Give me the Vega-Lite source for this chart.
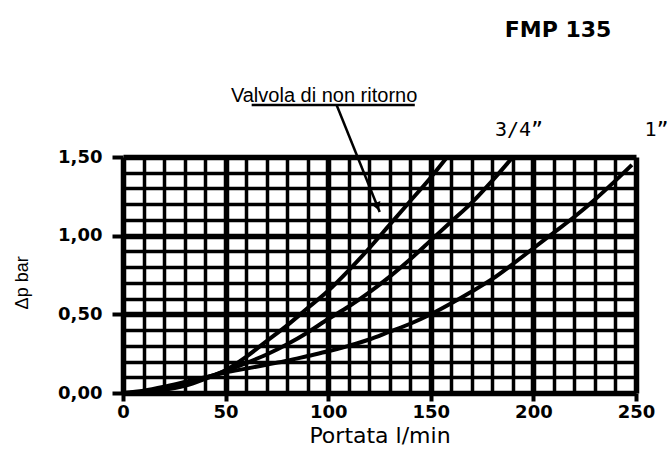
{
  "$schema": "https://vega.github.io/schema/vega-lite/v6.json",
  "width": 513,
  "height": 236,
  "autosize": {"type": "none"},
  "padding": {"left": 123, "top": 157, "right": 34, "bottom": 66},
  "background": "white",
  "config": {
    "view": {"stroke": null},
    "axis": {"labelColor": "black", "titleColor": "black", "domain": false}
  },
  "datasets": {
    "curves": [
      {"serie": "Valvola", "portata": 0, "dp": 0},
      {"serie": "Valvola", "portata": 10, "dp": 0.005},
      {"serie": "Valvola", "portata": 20, "dp": 0.02},
      {"serie": "Valvola", "portata": 30, "dp": 0.045},
      {"serie": "Valvola", "portata": 40, "dp": 0.09},
      {"serie": "Valvola", "portata": 50, "dp": 0.145},
      {"serie": "Valvola", "portata": 60, "dp": 0.23},
      {"serie": "Valvola", "portata": 70, "dp": 0.33},
      {"serie": "Valvola", "portata": 80, "dp": 0.43},
      {"serie": "Valvola", "portata": 90, "dp": 0.54},
      {"serie": "Valvola", "portata": 100, "dp": 0.65},
      {"serie": "Valvola", "portata": 110, "dp": 0.78},
      {"serie": "Valvola", "portata": 120, "dp": 0.92},
      {"serie": "Valvola", "portata": 130, "dp": 1.07},
      {"serie": "Valvola", "portata": 140, "dp": 1.22},
      {"serie": "Valvola", "portata": 150, "dp": 1.37},
      {"serie": "Valvola", "portata": 158, "dp": 1.5},
      {"serie": "3/4", "portata": 0, "dp": 0},
      {"serie": "3/4", "portata": 10, "dp": 0.01},
      {"serie": "3/4", "portata": 20, "dp": 0.03},
      {"serie": "3/4", "portata": 30, "dp": 0.06},
      {"serie": "3/4", "portata": 40, "dp": 0.095},
      {"serie": "3/4", "portata": 50, "dp": 0.14},
      {"serie": "3/4", "portata": 60, "dp": 0.19},
      {"serie": "3/4", "portata": 70, "dp": 0.245},
      {"serie": "3/4", "portata": 80, "dp": 0.31},
      {"serie": "3/4", "portata": 90, "dp": 0.385},
      {"serie": "3/4", "portata": 100, "dp": 0.47},
      {"serie": "3/4", "portata": 110, "dp": 0.55},
      {"serie": "3/4", "portata": 120, "dp": 0.64},
      {"serie": "3/4", "portata": 130, "dp": 0.74},
      {"serie": "3/4", "portata": 140, "dp": 0.85},
      {"serie": "3/4", "portata": 150, "dp": 0.97},
      {"serie": "3/4", "portata": 160, "dp": 1.09},
      {"serie": "3/4", "portata": 170, "dp": 1.21},
      {"serie": "3/4", "portata": 180, "dp": 1.35},
      {"serie": "3/4", "portata": 190, "dp": 1.5},
      {"serie": "1", "portata": 0, "dp": 0},
      {"serie": "1", "portata": 10, "dp": 0.015},
      {"serie": "1", "portata": 20, "dp": 0.04},
      {"serie": "1", "portata": 30, "dp": 0.07},
      {"serie": "1", "portata": 40, "dp": 0.1},
      {"serie": "1", "portata": 50, "dp": 0.13},
      {"serie": "1", "portata": 60, "dp": 0.155},
      {"serie": "1", "portata": 70, "dp": 0.18},
      {"serie": "1", "portata": 80, "dp": 0.205},
      {"serie": "1", "portata": 90, "dp": 0.235},
      {"serie": "1", "portata": 100, "dp": 0.265},
      {"serie": "1", "portata": 110, "dp": 0.3},
      {"serie": "1", "portata": 120, "dp": 0.34},
      {"serie": "1", "portata": 130, "dp": 0.39},
      {"serie": "1", "portata": 140, "dp": 0.44},
      {"serie": "1", "portata": 150, "dp": 0.5},
      {"serie": "1", "portata": 160, "dp": 0.57},
      {"serie": "1", "portata": 170, "dp": 0.645},
      {"serie": "1", "portata": 180, "dp": 0.725},
      {"serie": "1", "portata": 190, "dp": 0.82},
      {"serie": "1", "portata": 200, "dp": 0.92},
      {"serie": "1", "portata": 210, "dp": 1.02},
      {"serie": "1", "portata": 220, "dp": 1.12},
      {"serie": "1", "portata": 230, "dp": 1.23},
      {"serie": "1", "portata": 240, "dp": 1.35},
      {"serie": "1", "portata": 248, "dp": 1.45}
    ],
    "valvola": [
      {"text": "Valvola di non ritorno", "portata": 98, "dp": 1.89}
    ],
    "sizes": [
      {"text": "3/4\u201d", "portata": 193, "dp": 1.67},
      {"text": "1\u201d", "portata": 260, "dp": 1.67}
    ],
    "model": [
      {"text": "FMP 135", "portata": 212, "dp": 2.31}
    ],
    "ytitle": [
      {"text": "\u0394p bar", "portata": -48.5, "dp": 0.7}
    ],
    "leader": [
      {"seg": "underline", "portata": 62.7, "dp": 1.83},
      {"seg": "underline", "portata": 142.2, "dp": 1.83},
      {"seg": "arrow", "portata": 104.1, "dp": 1.83},
      {"seg": "arrow", "portata": 125.1, "dp": 1.15}
    ],
    "head": [
      {"portata": 124, "dp": 1.185}
    ]
  },
  "encoding": {
    "x": {
      "field": "portata",
      "type": "quantitative",
      "scale": {"domain": [0, 250], "nice": false},
      "axis": {
        "title": "Portata l/min",
        "titleFont": "DejaVu Sans",
        "titleFontSize": 22,
        "titleFontWeight": "normal",
        "titlePadding": 4,
        "values": [0,10,20,30,40,50,60,70,80,90,100,110,120,130,140,150,160,170,180,190,200,210,220,230,240,250],
        "labelExpr": "datum.value % 50 === 0 ? datum.label : ''",
        "labelFont": "DejaVu Sans",
        "labelFontSize": 18,
        "labelFontWeight": "bold",
        "labelPadding": 2,
        "labelFlush": false,
        "labelOverlap": false,
        "grid": true,
        "gridColor": "black",
        "gridOpacity": 1,
        "gridWidth": {"condition": {"test": "datum.value % 50 === 0", "value": 5.5}, "value": 3.5},
        "ticks": true,
        "tickColor": "black",
        "tickWidth": 4,
        "tickSize": {"condition": {"test": "datum.value % 50 === 0", "value": 8}, "value": 0}
      }
    },
    "y": {
      "field": "dp",
      "type": "quantitative",
      "scale": {"domain": [0, 1.5], "nice": false},
      "axis": {
        "title": null,
        "values": [0,0.1,0.2,0.3,0.4,0.5,0.6,0.7,0.8,0.9,1,1.1,1.2,1.3,1.4,1.5],
        "labelExpr": "round(datum.value*10) % 5 === 0 ? replace(format(datum.value, '.2f'), '.', ',') : ''",
        "labelFont": "DejaVu Sans",
        "labelFontSize": 18,
        "labelFontWeight": "bold",
        "labelPadding": 10,
        "labelOverlap": false,
        "labelFlush": false,
        "grid": true,
        "gridColor": "black",
        "gridOpacity": 1,
        "gridWidth": {"condition": {"test": "round(datum.value*10) % 5 === 0", "value": 5.5}, "value": 3.5},
        "ticks": true,
        "tickColor": "black",
        "tickWidth": 4,
        "tickSize": {"condition": {"test": "round(datum.value*10) % 5 === 0", "value": 11}, "value": 0}
      }
    }
  },
  "layer": [
    {
      "data": {"name": "curves"},
      "mark": {"type": "line", "color": "black", "strokeWidth": 4, "interpolate": "monotone", "clip": false},
      "encoding": {"detail": {"field": "serie"}}
    },
    {
      "data": {"name": "leader"},
      "mark": {"type": "line", "color": "black", "strokeWidth": 2.5, "clip": false},
      "encoding": {"detail": {"field": "seg"}}
    },
    {
      "data": {"name": "head"},
      "mark": {"type": "point", "shape": "triangle-down", "filled": true, "color": "black", "opacity": 1, "size": 90, "angle": 338.5, "clip": false},
      "encoding": {}
    },
    {
      "data": {"name": "valvola"},
      "mark": {"type": "text", "color": "black", "align": "center", "baseline": "middle", "font": "Liberation Sans", "fontSize": 20, "clip": false},
      "encoding": {"text": {"field": "text"}}
    },
    {
      "data": {"name": "sizes"},
      "mark": {"type": "text", "color": "black", "align": "center", "baseline": "middle", "font": "DejaVu Sans Mono", "fontSize": 20, "clip": false},
      "encoding": {"text": {"field": "text"}}
    },
    {
      "data": {"name": "model"},
      "mark": {"type": "text", "color": "black", "align": "center", "baseline": "middle", "font": "DejaVu Sans", "fontWeight": "bold", "fontSize": 22, "clip": false},
      "encoding": {"text": {"field": "text"}}
    },
    {
      "data": {"name": "ytitle"},
      "mark": {"type": "text", "color": "black", "align": "center", "baseline": "middle", "angle": 270, "font": "Liberation Sans", "fontSize": 18, "clip": false},
      "encoding": {"text": {"field": "text"}}
    }
  ]
}
